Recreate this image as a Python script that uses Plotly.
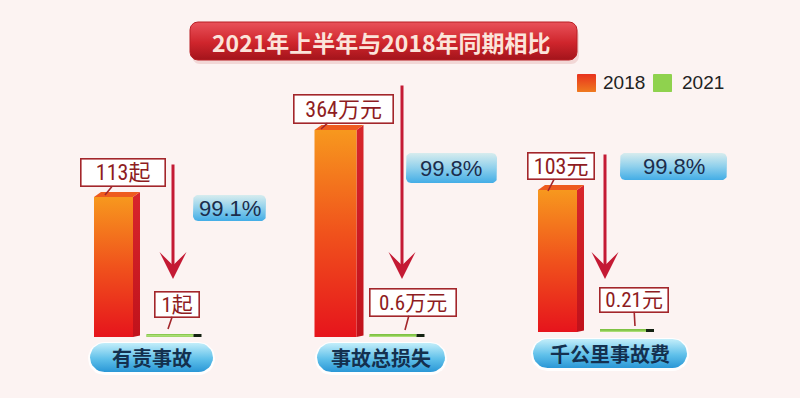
import math
import plotly.graph_objects as go

W, H = 800, 398

# ---------------- data ----------------
categories = ["有责事故", "事故总损失", "千公里事故费"]
years = ["2018", "2021"]
values_2018 = [113, 364, 103]
values_2021 = [1, 0.6, 0.21]
units = ["起", "万元", "元"]
title_text = "2021年上半年与2018年同期相比"

# ---------------- layout (pixels) ----------------
orange_cx = [113.5, 335.5, 557.5]
green_cx = [174.0, 397.0, 627.0]
orange_w = [39, 42, 39]
green_w = [55, 55, 54]
base_py = [337, 337, 332]
top_py = [197, 130, 190]
AX_TOP = 60
CAP = 8          # dark end of green bar (px)
DEP_X, DEP_Y = 7, 5  # 3D depth (px)

# annotation placements (pixels, y down)
c18_box = [(123, 173, 86, 29), (343.5, 109, 101, 30), (561, 166, 68, 28)]
c18_tip = [(105, 195), (321, 129), (548, 191)]
c21_box = [(176.5, 304, 46, 27), (412.5, 302, 88, 29), (633.5, 299.5, 70, 26)]
c21_tip = [(168, 329), (405, 330), (635, 326)]
pct_box = [(193, 195, 266, 221), (406, 153, 497, 183), (620, 153, 727, 180)]
pill_box = [(90, 343, 213, 372), (317, 343, 445, 372), (533, 339, 687, 368)]
arrows = [(173, 163, 279), (402, 84, 279), (605, 153, 279)]

CJK = "Noto Sans CJK SC"
NUM = "Liberation Sans Narrow, Arial Narrow, Roboto Condensed, Noto Sans CJK SC, sans-serif"

fig = go.Figure()


def rrect(x0, y0, x1, y1, r, n=8):
    pts = []
    corners = [(x1 - r, y0 + r, -90, 0), (x1 - r, y1 - r, 0, 90),
               (x0 + r, y1 - r, 90, 180), (x0 + r, y0 + r, 180, 270)]
    for cx, cy, a0, a1 in corners:
        for k in range(n + 1):
            a = math.radians(a0 + (a1 - a0) * k / n)
            pts.append((cx + r * math.cos(a), cy + r * math.sin(a)))
    pts.append(pts[0])
    return [p[0] for p in pts], [H - p[1] for p in pts]


def poly(X, Y, fill=None, grad=None, line=None, lw=0, xa="x", ya="y"):
    kw = dict(x=X, y=Y, mode="lines", fill="toself", xaxis=xa, yaxis=ya,
              hoverinfo="skip", showlegend=False,
              line=dict(color=line or "rgba(0,0,0,0)", width=lw))
    if grad:
        kw["fillgradient"] = dict(type="vertical", colorscale=grad)
    else:
        kw["fillcolor"] = fill
    return go.Scatter(**kw)


# ---------------- decorations on pixel overlay axis ----------------
# title banner
X, Y = rrect(192, 27, 579, 64, 8)
fig.add_trace(poly(X, Y, fill="rgba(200,90,90,0.18)"))
X, Y = rrect(190, 22, 577, 60, 8)
fig.add_trace(poly(X, Y, grad=[[0, "#a3141b"], [0.45, "#cf252c"], [1, "#e9525a"]],
                   line="#b81e24", lw=1))

# legend squares
X, Y = rrect(577, 74, 596, 92, 0.5, n=1)
fig.add_trace(poly(X, Y, grad=[[0, "#ef7a1f"], [1, "#e8321e"]]))
X, Y = rrect(653, 74, 672, 92, 0.5, n=1)
fig.add_trace(poly(X, Y, fill="#8fd24e"))

# percent boxes
for (x0, y0, x1, y1) in pct_box:
    X, Y = rrect(x0, y0, x1, y1, 5)
    fig.add_trace(poly(X, Y, grad=[[0, "#43ade6"], [0.5, "#8fd0ec"], [1, "#d7ecee"]]))

# category pills
for (x0, y0, x1, y1) in pill_box:
    X, Y = rrect(x0 - 2, y0 - 1, x1 + 2, y1 + 3, (y1 - y0 + 4) / 2)
    fig.add_trace(poly(X, Y, fill="rgba(255,255,255,0.9)"))
    X, Y = rrect(x0, y0, x1, y1, (y1 - y0) / 2)
    fig.add_trace(poly(X, Y, grad=[[0, "#2a97d6"], [0.45, "#5fc0ea"], [1, "#c3eefa"]]))

# ---------------- bar groups ----------------
layout_axes = {}
for i in range(3):
    n = i + 2
    xa, ya = f"x{n}", f"y{n}"
    u = green_cx[i] - orange_cx[i]
    v18, v21 = values_2018[i], values_2021[i]
    span_px = base_py[i] - AX_TOP
    ymax = v18 * span_px / (base_py[i] - top_py[i])
    layout_axes[f"xaxis{n}"] = dict(domain=[(orange_cx[i] - 0.6 * u) / W, (orange_cx[i] + 1.6 * u) / W],
                                    range=[-0.6, 1.6], visible=False, anchor=ya, fixedrange=True)
    layout_axes[f"yaxis{n}"] = dict(domain=[1 - base_py[i] / H, 1 - AX_TOP / H],
                                    range=[0, ymax], visible=False, anchor=xa, fixedrange=True)
    dx = DEP_X / u
    dy = DEP_Y * ymax / span_px
    # 2018 bar (x=0)
    wo = orange_w[i] / u
    l, r = 0 - wo / 2, 0 + wo / 2
    fig.add_trace(poly([r, r + dx, r + dx, r, r], [0, dy * 0.3, v18 + dy, v18, 0],
                       grad=[[0, "#c0121b"], [1, "#d8262c"]], xa=xa, ya=ya))
    fig.add_trace(poly([l, l + dx, r + dx, r, l], [v18, v18 + dy, v18 + dy, v18, v18],
                       fill="#ee5b1f", xa=xa, ya=ya))
    fig.add_trace(poly([l, r, r, l, l], [0, 0, v18, v18, 0],
                       grad=[[0, "#e6141c"], [0.5, "#f0521c"], [1, "#f7981e"]], xa=xa, ya=ya))
    # 2021 bar (x=1)
    wg = green_w[i] / u
    cap = CAP / u
    gl, gr = 1 - wg / 2, 1 + wg / 2
    fig.add_trace(poly([gl, gr - cap, gr - cap, gl, gl], [0, 0, v21, v21, 0],
                       fill="#7fc244", line="#7fc244", lw=6, xa=xa, ya=ya))
    fig.add_trace(poly([gl, gr - cap, gr - cap, gl, gl], [v21, v21, v21, v21, v21],
                       fill="#aadd74", line="#aadd74", lw=2, xa=xa, ya=ya))
    fig.add_trace(poly([gr - cap, gr, gr, gr - cap, gr - cap], [0, 0, v21, v21, 0],
                       fill="#142212", line="#142212", lw=6, xa=xa, ya=ya))

# ---------------- annotations ----------------
ann = []


def txt_ann(text, px, py, font, xanchor="center"):
    return dict(text=text, x=px / W, y=1 - py / H, xref="paper", yref="paper",
                xanchor=xanchor, yanchor="middle", showarrow=False, font=font)


# title
ann.append(txt_ann(f"<b>{title_text}</b>", 381, 42, dict(family=CJK, size=23, color="#fbe4da")))
# legend text
for txt, px in [(years[0], 601), (years[1], 680)]:
    ann.append(txt_ann(txt, px, 82, dict(family="Liberation Sans, Arial, sans-serif", size=19,
                                          color="#222222"), xanchor="left"))

for i in range(3):
    v18, v21 = values_2018[i], values_2021[i]
    pct = (1 - v21 / v18) * 100
    for (cx, cy, bw, bh), (tx, ty), txt, fs in [
        (c18_box[i], c18_tip[i], f"{v18}{units[i]}", 22),
        (c21_box[i], c21_tip[i], f"{v21}{units[i]}", 21),
    ]:
        ann.append(dict(text=txt, x=tx / W, y=1 - ty / H, xref="paper", yref="paper",
                        ax=cx - tx, ay=cy - ty, axref="pixel", ayref="pixel",
                        showarrow=True, arrowhead=0, arrowwidth=1.6, arrowcolor="#a3262b",
                        bgcolor="#ffffff", bordercolor="#a3262b", borderwidth=1.6, borderpad=1,
                        width=bw - 5, height=bh - 5,
                        font=dict(family=NUM, size=fs, color="#8e1c22")))
    x0, y0, x1, y1 = pct_box[i]
    ann.append(txt_ann(f"{pct:.1f}%", (x0 + x1) / 2, (y0 + y1) / 2,
                       dict(family="Liberation Sans, Arial, sans-serif", size=22, color="#1b2d4c")))
    x0, y0, x1, y1 = pill_box[i]
    ann.append(txt_ann(f"<b>{categories[i]}</b>", (x0 + x1) / 2, (y0 + y1) / 2,
                       dict(family=CJK, size=20, color="#14304f")))
    # big red arrow
    ax_, ys, ye = arrows[i]
    ann.append(dict(text="", x=ax_ / W, y=1 - ye / H, xref="paper", yref="paper",
                    ax=0, ay=ys - ye, axref="pixel", ayref="pixel", showarrow=True,
                    arrowhead=3, arrowsize=1.5, arrowwidth=3, arrowcolor="#c41a34"))

fig.update_layout(
    width=W, height=H,
    margin=dict(l=0, r=0, t=0, b=0),
    paper_bgcolor="#fcf3f2",
    plot_bgcolor="rgba(0,0,0,0)",
    showlegend=False,
    hovermode=False,
    xaxis=dict(domain=[0, 1], range=[0, W], visible=False, fixedrange=True),
    yaxis=dict(domain=[0, 1], range=[0, H], visible=False, fixedrange=True),
    annotations=ann,
    **layout_axes,
)

fig.write_html("out.html")
